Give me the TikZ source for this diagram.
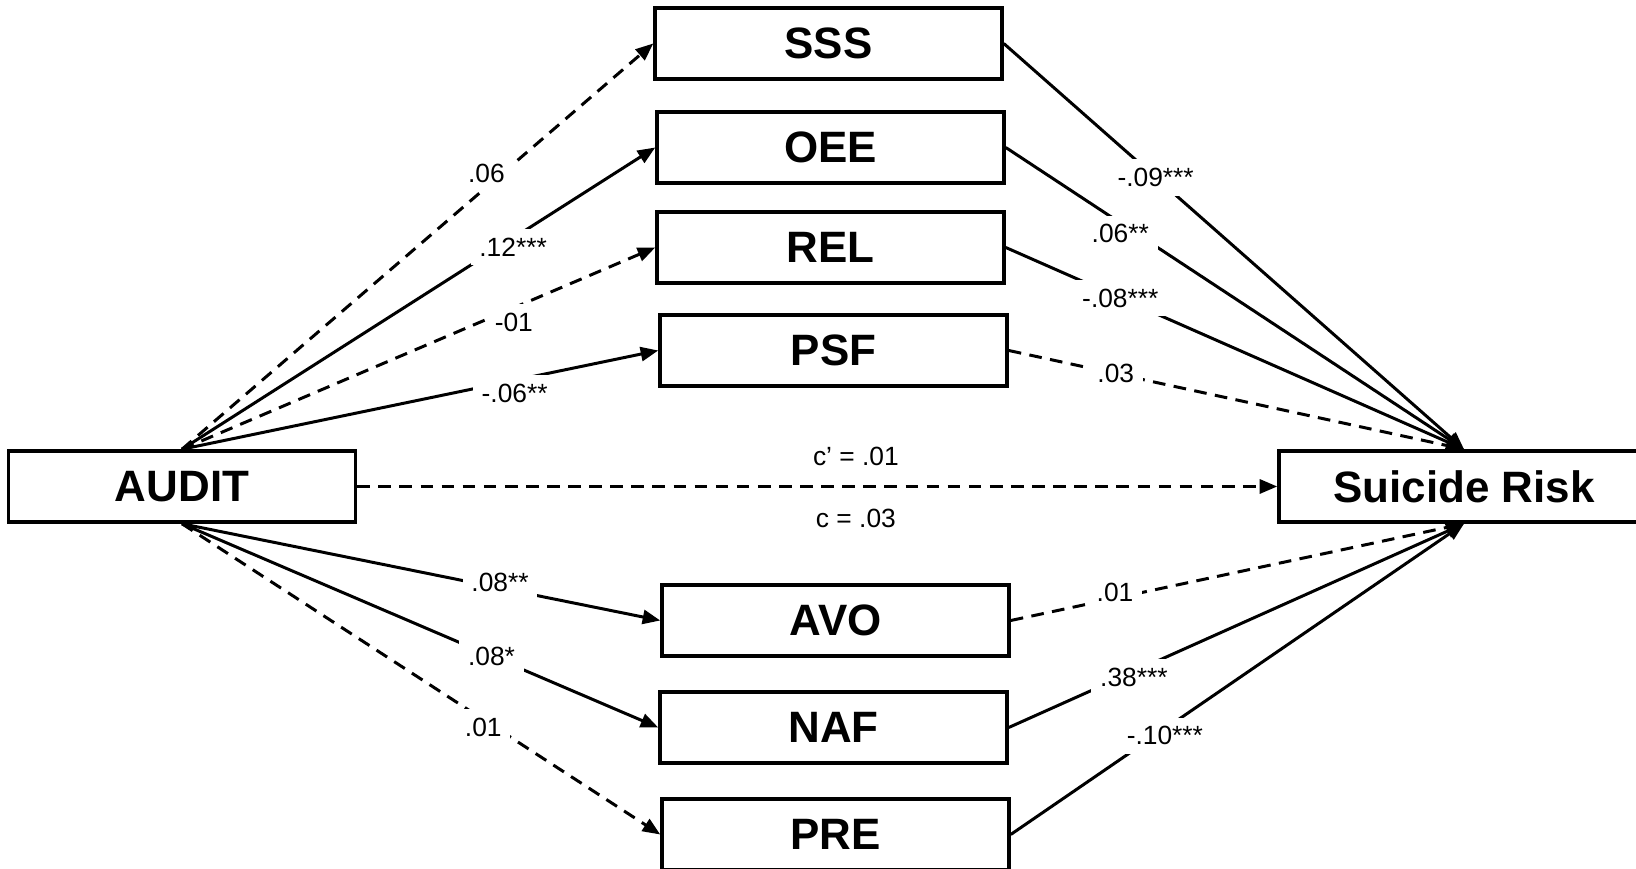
\documentclass[tikz,border=0pt]{standalone}
\usepackage{fontspec}
\setmainfont{Liberation Sans}
\usetikzlibrary{arrows.meta}

\begin{document}
\begin{tikzpicture}
      \useasboundingbox (0,0) rectangle (16.36,8.69);
      \tikzset{B/.style = {shape=rectangle, draw, line width=1pt, minimum width=3.47cm, minimum height=0.71cm, inner sep=0pt, font=\fontsize{12.5}{14}\selectfont\bfseries}}
      \tikzset{E/.style = {draw, line width=0.85pt, -{Triangle[length=5pt,width=4pt]}}}
      \tikzset{D/.style = {E, dash pattern=on 3.6pt off 2.4pt}}
      \tikzset{L/.style = {fill=white, inner sep=2.5pt, font=\fontsize{7.5}{9}\selectfont}}
      \node[B](audit) at (1.82,3.825) {AUDIT};
      \node[B,minimum width=3.7cm](sr) at (14.64,3.825) {Suicide Risk};
      \node[B](sss) at (8.285,8.255) {SSS};
      \node[B](oee) at (8.305,7.215) {OEE};
      \node[B](rel) at (8.305,6.215) {REL};
      \node[B](psf) at (8.335,5.185) {PSF};
      \node[B](avo) at (8.355,2.485) {AVO};
      \node[B](naf) at (8.335,1.415) {NAF};
      \node[B](pre) at (8.355,0.345) {PRE};
      % a paths
      \draw[D](audit.north) to node[L,pos=0.68,xshift=-0.16cm]{.06} (sss.west);
      \draw[E](audit.north) to node[L,pos=0.67,xshift=0.14cm]{.12***} (oee.west);
      \draw[D](audit.north) to node[L,pos=0.68,xshift=0.1cm,yshift=-0.1cm]{-01} (rel.west);
      \draw[E](audit.north) to node[L,pos=0.69,xshift=0.04cm,yshift=-0.12cm]{-.06**} (psf.west);
      \draw[E](audit.south) to node[L,pos=0.665,yshift=0.06cm]{.08**} (avo.west);
      \draw[E](audit.south) to node[L,pos=0.65]{.08*} (naf.west);
      \draw[D](audit.south) to node[L,pos=0.63,yshift=-0.08cm]{.01} (pre.west);
      % b paths
      \draw[E](sss.east) to node[L,pos=0.33]{-.09***} (sr.north);
      \draw[E](oee.east) to node[L,pos=0.25,yshift=-0.11cm]{.06**} (sr.north);
      \draw[E](rel.east) to node[L,pos=0.25]{-.08***} (sr.north);
      \draw[D](psf.east) to node[L,pos=0.235]{.03} (sr.north);
      \draw[D](avo.east) to node[L,pos=0.23,yshift=0.06cm]{.01} (sr.south);
      \draw[E](naf.east) to node[L,pos=0.275,yshift=-0.06cm]{.38***} (sr.south);
      \draw[E](pre.east) to node[L,pos=0.34,yshift=-0.07cm]{-.10***} (sr.south);
      % direct path
      \draw[D](audit.east) to node[L,pos=0.542,above=0.1cm]{c’ = .01} node[L,pos=0.542,below=0.12cm]{c = .03} (sr.west);
    \end{tikzpicture}
\end{document}
